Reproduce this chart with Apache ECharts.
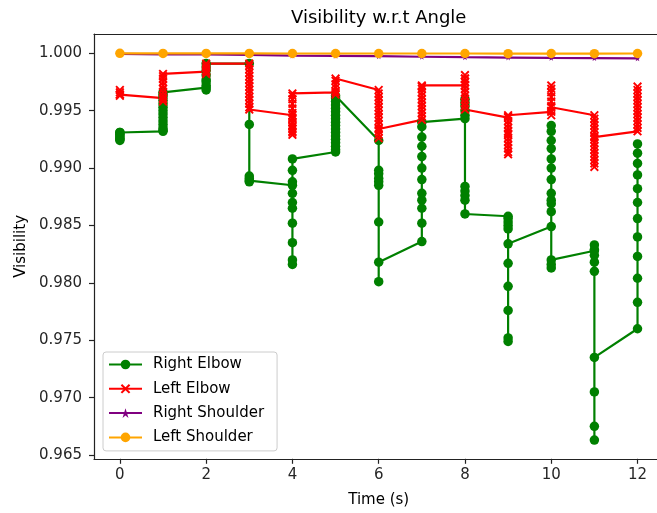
<!DOCTYPE html>
<html>
<head>
<meta charset="utf-8">
<title>Visibility w.r.t Angle</title>
<script src="https://cdn.jsdelivr.net/npm/echarts@6.0.0/dist/echarts.min.js"></script>
<style>
  html, body { margin: 0; padding: 0; background: #fff; }
  #chart { width: 657px; height: 513px; }
</style>
</head>
<body>
<div id="chart"></div>
<script>
const chart = echarts.init(document.getElementById('chart'));

// seconds, and the visibility samples recorded within each second
const times = [0, 1, 2, 3, 4, 5, 6, 7, 8, 9, 10, 11, 12];

const rightElbow = [
  [0.9931, 0.9929, 0.9927, 0.9925, 0.9924, 0.9926, 0.9929, 0.9931],
  [0.9932, 0.9933, 0.9935, 0.9938, 0.9941, 0.9944, 0.9947, 0.9950, 0.9953, 0.9956, 0.9959, 0.9962, 0.9964, 0.9966],
  [0.9970, 0.9968, 0.9972, 0.9975, 0.9977, 0.9981, 0.9985, 0.9988, 0.9991],
  [0.9991, 0.9938, 0.9893, 0.9891, 0.9889, 0.9888],
  [0.9885, 0.9878, 0.9865, 0.9852, 0.9835, 0.9820, 0.9816, 0.9870, 0.9888, 0.9898, 0.9908],
  [0.9914, 0.9916, 0.9919, 0.9922, 0.9925, 0.9928, 0.9931, 0.9934, 0.9937, 0.9940, 0.9943, 0.9946, 0.9949, 0.9952, 0.9955, 0.9958, 0.9961, 0.9963],
  [0.9924, 0.9898, 0.9895, 0.9891, 0.9888, 0.9885, 0.9853, 0.9801, 0.9818],
  [0.9836, 0.9852, 0.9865, 0.9872, 0.9878, 0.9890, 0.9900, 0.9910, 0.9919, 0.9927, 0.9936, 0.9940],
  [0.9943, 0.9946, 0.9950, 0.9954, 0.9957, 0.9960, 0.9884, 0.9880, 0.9876, 0.9872, 0.9860],
  [0.9858, 0.9856, 0.9853, 0.9850, 0.9847, 0.9817, 0.9797, 0.9776, 0.9752, 0.9749, 0.9834],
  [0.9849, 0.9862, 0.9869, 0.9872, 0.9878, 0.9890, 0.9900, 0.9908, 0.9917, 0.9924, 0.9932, 0.9937, 0.9813, 0.9816, 0.9820],
  [0.9828, 0.9833, 0.9829, 0.9824, 0.9818, 0.9810, 0.9705, 0.9675, 0.9663, 0.9735],
  [0.9760, 0.9783, 0.9804, 0.9823, 0.9840, 0.9856, 0.9870, 0.9882, 0.9894, 0.9904, 0.9913, 0.9921]
];

const leftElbow = [
  [0.9968, 0.9966, 0.9964, 0.9963, 0.9964],
  [0.9961, 0.9958, 0.9960, 0.9963, 0.9966, 0.9969, 0.9972, 0.9975, 0.9978, 0.9980, 0.9982],
  [0.9984, 0.9982, 0.9985, 0.9987, 0.9989, 0.9991],
  [0.9991, 0.9989, 0.9986, 0.9983, 0.9980, 0.9977, 0.9974, 0.9971, 0.9968, 0.9965, 0.9962, 0.9959, 0.9956, 0.9953, 0.9951],
  [0.9946, 0.9943, 0.9940, 0.9937, 0.9934, 0.9931, 0.9929, 0.9932, 0.9936, 0.9940, 0.9944, 0.9948, 0.9952, 0.9956, 0.9960, 0.9963, 0.9965],
  [0.9966, 0.9964, 0.9967, 0.9970, 0.9973, 0.9976, 0.9978],
  [0.9968, 0.9965, 0.9962, 0.9959, 0.9956, 0.9953, 0.9950, 0.9947, 0.9944, 0.9941, 0.9938, 0.9935, 0.9932, 0.9929, 0.9926, 0.9934],
  [0.9942, 0.9945, 0.9948, 0.9951, 0.9954, 0.9957, 0.9960, 0.9963, 0.9966, 0.9969, 0.9972, 0.9971],
  [0.9972, 0.9975, 0.9978, 0.9981, 0.9978, 0.9975, 0.9972, 0.9969, 0.9966, 0.9963, 0.9960, 0.9957, 0.9954, 0.9951],
  [0.9944, 0.9941, 0.9938, 0.9935, 0.9932, 0.9929, 0.9926, 0.9923, 0.9920, 0.9917, 0.9914, 0.9912, 0.9930, 0.9946, 0.9945],
  [0.9949, 0.9946, 0.9950, 0.9954, 0.9958, 0.9962, 0.9966, 0.9969, 0.9972, 0.9953],
  [0.9946, 0.9943, 0.9940, 0.9937, 0.9934, 0.9931, 0.9928, 0.9925, 0.9922, 0.9919, 0.9916, 0.9913, 0.9910, 0.9907, 0.9904, 0.9901, 0.9927],
  [0.9932, 0.9935, 0.9938, 0.9941, 0.9944, 0.9947, 0.9950, 0.9953, 0.9956, 0.9959, 0.9962, 0.9965, 0.9968, 0.9971]
];

const rightShoulder = [0.99995, 0.9999, 0.9999, 0.99985, 0.9998, 0.99978, 0.99975, 0.9997, 0.99966, 0.99963, 0.9996, 0.99958, 0.99956];
const leftShoulder = [1.0, 0.99999, 0.99999, 0.99999, 0.99998, 0.99998, 0.99998, 0.99998, 0.99998, 0.99997, 0.99998, 0.99997, 0.99998];

const xTicks = [0, 2, 4, 6, 8, 10, 12];
const yTicks = [0.965, 0.970, 0.975, 0.980, 0.985, 0.990, 0.995, 1.000];

const FONT = 'DejaVu Sans';
const SPINE = '#222';
const X_MARK = 'path://M0,1.5 L1.5,0 L5,3.5 L8.5,0 L10,1.5 L6.5,5 L10,8.5 L8.5,10 L5,6.5 L1.5,10 L0,8.5 L3.5,5 Z';
const STAR = 'path://M5,0 L6.2,3.6 L10,3.6 L6.9,5.8 L8.1,9.5 L5,7.2 L1.9,9.5 L3.1,5.8 L0,3.6 L3.8,3.6 Z';

function groupsToPoints(groups) {
  const pts = [];
  groups.forEach((vals, i) => vals.forEach((v) => pts.push([times[i], v])));
  return pts;
}

function singleToPoints(vals) {
  return vals.map((v, i) => [times[i], v]);
}

function lineSeries(name, data, color, symbol, size) {
  return {
    name,
    type: 'line',
    data,
    symbol,
    symbolSize: size,
    showAllSymbol: true,
    sampling: null,
    lineStyle: { color, width: 2.2 },
    itemStyle: { color, borderWidth: 0 },
    emphasis: { disabled: true }
  };
}

chart.setOption({
  animation: false,
  backgroundColor: '#fff',
  textStyle: { fontFamily: FONT },
  title: {
    text: 'Visibility w.r.t Angle',
    left: 286,
    top: 4,
    textStyle: { fontFamily: FONT, fontSize: 18, fontWeight: 'normal', color: '#000' }
  },
  legend: {
    orient: 'vertical',
    left: 103,
    top: 352,
    padding: [5, 13, 6, 5],
    itemWidth: 33,
    itemHeight: 12,
    itemGap: 9.3,
    backgroundColor: 'rgba(255,255,255,0.8)',
    borderColor: '#cccccc',
    borderWidth: 1,
    borderRadius: 3,
    textStyle: { fontFamily: FONT, fontSize: 15, color: '#000', padding: [0, 0, 0, 6] },
    data: ['Right Elbow', 'Left Elbow', 'Right Shoulder', 'Left Shoulder']
  },
  grid: {
    left: 94,
    top: 34,
    right: -6.4,
    bottom: 54.2,
    outerBoundsMode: 'none'
  },
  xAxis: [
    {
      type: 'value',
      min: -0.6,
      max: 12.6,
      name: 'Time (s)',
      nameLocation: 'middle',
      nameGap: 34,
      nameTextStyle: { fontFamily: FONT, fontSize: 15, color: '#000' },
      splitLine: { show: false },
      axisLine: { onZero: false, lineStyle: { color: SPINE, width: 1.2 } },
      axisTick: { length: 5, lineStyle: { color: SPINE, width: 1.2 }, customValues: xTicks },
      axisLabel: { customValues: xTicks, margin: 9, fontSize: 15, color: '#262626', fontFamily: FONT }
    },
    {
      type: 'value',
      position: 'top',
      min: -0.6,
      max: 12.6,
      splitLine: { show: false },
      axisLine: { show: true, onZero: false, lineStyle: { color: SPINE, width: 1.2 } },
      axisTick: { show: false },
      axisLabel: { show: false }
    }
  ],
  yAxis: {
    type: 'value',
    min: 0.96467,
    max: 1.00168,
    name: 'Visibility',
    nameLocation: 'middle',
    nameGap: 64,
    nameTextStyle: { fontFamily: FONT, fontSize: 15, color: '#000' },
    splitLine: { show: false },
    axisLine: { show: true, onZero: false, lineStyle: { color: SPINE, width: 1.2 } },
    axisTick: { show: true, length: 5, lineStyle: { color: SPINE, width: 1.2 }, customValues: yTicks },
    axisLabel: {
      customValues: yTicks,
      margin: 12,
      fontSize: 15,
      color: '#262626',
      fontFamily: FONT,
      formatter: (v) => v.toFixed(3)
    }
  },
  series: [
    lineSeries('Right Elbow', groupsToPoints(rightElbow), '#008000', 'circle', 9.5),
    lineSeries('Left Elbow', groupsToPoints(leftElbow), '#ff0000', X_MARK, 9),
    lineSeries('Right Shoulder', singleToPoints(rightShoulder), '#800080', STAR, 6),
    lineSeries('Left Shoulder', singleToPoints(leftShoulder), '#ffa500', 'circle', 9.5)
  ]
});
</script>
</body>
</html>
